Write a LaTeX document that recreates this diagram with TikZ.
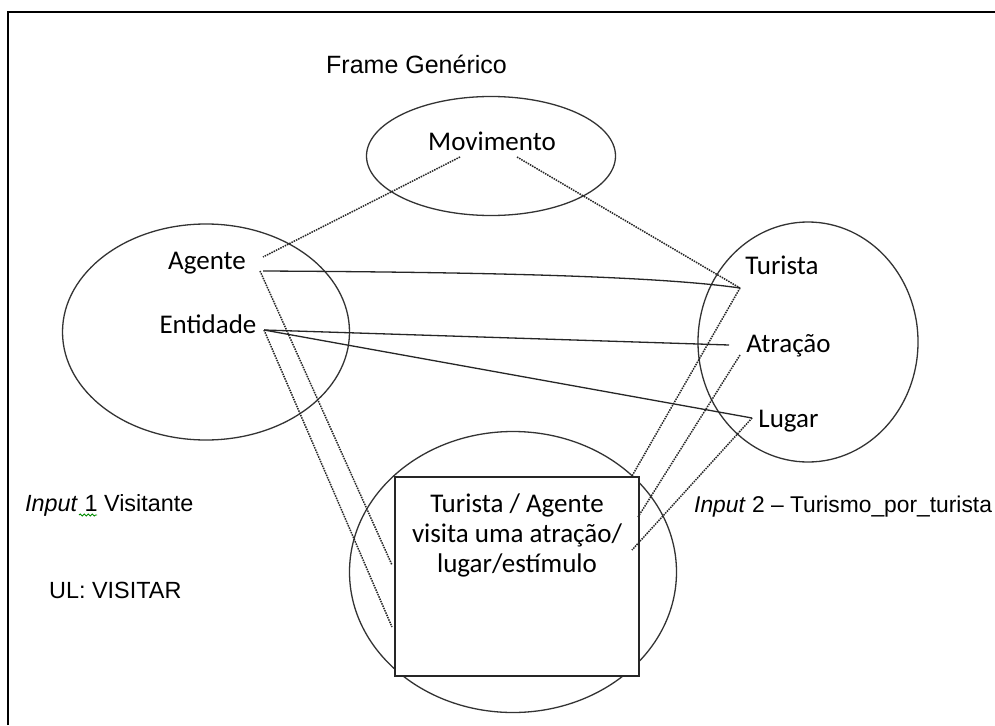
\documentclass[tikz,border=0pt]{standalone}
\usepackage{fontspec}
\setmainfont{Liberation Sans}
\newfontfamily\calibri{Carlito}
\usetikzlibrary{shapes.geometric,decorations.pathmorphing}

\begin{document}
\begin{tikzpicture}[x=1pt,y=-1pt,
  ring/.style={draw=black!80, line width=1.3pt, ellipse, inner sep=0pt},
  link/.style={draw=black!85, line width=1.3pt},
  dotlink/.style={draw=black!85, line width=1.5pt, densely dotted},
  cal/.style={font=\calibri\fontsize{27}{30}\selectfont, inner sep=0pt, anchor=base},
  ari/.style={font=\fontsize{23.4}{27}\selectfont, inner sep=0pt, anchor=base west},
]
\useasboundingbox (0,0) rectangle (995,725);
\fill[white] (0,0) rectangle (995,725);

% page frame: top and left edges
\draw[line width=2.5pt] (8,725) -- (8,12) -- (995,12);

% frames
\node[ring, minimum width=249pt, minimum height=119pt] (gen) at (491,156) {};
\node[ring, minimum width=287pt, minimum height=216pt] (inA) at (206,332) {};
\node[ring, minimum width=220pt, minimum height=240pt] (inB) at (808,342) {};
\node[ring, minimum width=327pt, minimum height=281pt] (blend) at (513,572) {};
\node[draw=black!85, fill=white, line width=2pt, minimum width=244pt, minimum height=199pt, inner sep=0pt] (box) at (517,576.5) {};

% labels
\node[ari, font=\fontsize{25}{28}\selectfont] (title) at (326,74) {Frame Genérico};
\node[cal] (mov) at (492,150) {Movimento};
\node[cal] (ag) at (207,269) {Agente};
\node[cal] (ent) at (208,333) {Entidade};
\node[cal] (tur) at (782,274) {Turista};
\node[cal] (atr) at (788.5,352) {Atração};
\node[cal] (lug) at (788.5,427) {Lugar};
\node[cal] (bx1) at (517,512) {Turista / Agente};
\node[cal] (bx2) at (517,542) {visita uma atração/};
\node[cal] (bx3) at (517,572) {lugar/estímulo};
\node[ari] (inAlbl) at (25,511) {\textit{Input} 1 Visitante};
\node[ari] (ul) at (49,598) {UL: VISITAR};
\node[ari, font=\fontsize{22.8}{27}\selectfont] (inBlbl) at (694,512) {\textit{Input} 2 – Turismo\_por\_turista};
\draw[green!55!black, line width=0.9pt, decorate, decoration={snake, amplitude=1pt, segment length=4pt}] (79,515) -- (97,515);

% connector end points
\coordinate (movL) at (460,157);
\coordinate (movR) at (517,157);
\coordinate (agE) at (263,257);
\coordinate (agS) at (263,271);
\coordinate (agD) at (260,271);
\coordinate (entE) at (264,330);
\coordinate (turW) at (740,288);
\coordinate (atrW) at (729,345);
\coordinate (atrD) at (740,355);
\coordinate (lugW) at (752,418);
\coordinate (boxL1) at (392,565);
\coordinate (boxL2) at (392,627);
\coordinate (boxR1) at (632,476);
\coordinate (boxR2) at (638,517);
\coordinate (boxR3) at (632,550);

% mappings
\draw[dotlink] (movL) -- (agE);
\draw[dotlink] (movR) -- (turW);
\draw[link] (agS) .. controls (450,272) and (650,275) .. (turW);
\draw[link] (entE) -- (atrW);
\draw[link] (entE) -- (lugW);
\draw[dotlink] (agD) -- (boxL1);
\draw[dotlink] (entE) -- (boxL2);
\draw[dotlink] (turW) -- (boxR1);
\draw[dotlink] (atrD) -- (boxR2);
\draw[dotlink] (lugW) -- (boxR3);
\end{tikzpicture}
\end{document}
